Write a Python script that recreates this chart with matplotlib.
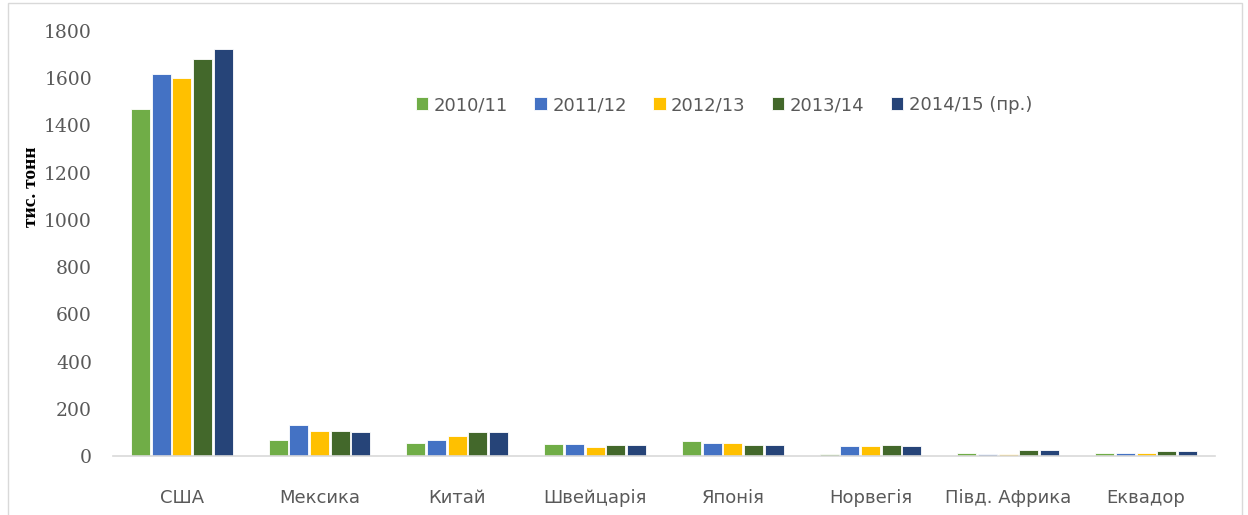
import matplotlib
matplotlib.use('Agg')
import matplotlib.pyplot as plt
import numpy as np
from matplotlib.patches import Rectangle

# Data
countries = ['США', 'Мексика', 'Китай', 'Швейцарія', 'Японія', 'Норвегія', 'Півд. Африка', 'Еквадор']
seasons = ['2010/11', '2011/12', '2012/13', '2013/14', '2014/15 (пр.)']
v2010 = [1470, 68, 57, 52, 62, 8, 14, 14]
v2011 = [1620, 133, 68, 52, 54, 41, 8, 14]
v2012 = [1600, 106, 83, 40, 53, 41, 7, 14]
v2013 = [1680, 106, 100, 47, 47, 47, 24, 20]
v2014 = [1725, 100, 100, 47, 47, 41, 24, 20]
series = [v2010, v2011, v2012, v2013, v2014]
colors = ['#70AD47', '#4472C4', '#FFC000', '#43682B', '#264478']

plt.rcParams['font.family'] = ['DejaVu Sans']

fig = plt.figure(figsize=(12.48, 5.15), dpi=100)
ax = fig.add_axes([0.0905, 0.1146, 0.883, 0.8252])

x = np.arange(len(countries))
w = 0.15
for i, (vals, c) in enumerate(zip(series, colors)):
    ax.bar(x + (i - 2) * w, vals, width=w * 0.92, color=c, label=seasons[i],
           edgecolor='#ffffff', linewidth=0.6)

ax.set_xlim(-0.5, len(countries) - 0.5)
ax.set_ylim(0, 1800)
ax.set_yticks(np.arange(0, 1801, 200))
ax.set_xticks(x)
ax.set_xticklabels(countries)
ax.tick_params(axis='x', length=0, labelsize=13, labelcolor='#595959', pad=24)
ax.tick_params(axis='y', length=0, labelsize=13.5, labelcolor='#595959', pad=15)
for lab in ax.get_yticklabels():
    lab.set_family('DejaVu Serif')
for s in ['top', 'right', 'left']:
    ax.spines[s].set_visible(False)
ax.spines['bottom'].set_color('#d9d9d9')
ax.spines['bottom'].set_linewidth(1.2)

ax.set_ylabel('тис. тонн', family=['Liberation Serif', 'DejaVu Serif'], fontweight='bold',
              fontsize=14, color='black')
ax.yaxis.set_label_coords(-0.066, 0.633)

leg = ax.legend(loc='upper left', bbox_to_anchor=(0.26, 0.885), ncol=5, frameon=False,
                fontsize=13, handlelength=0.7, handleheight=0.7, handletextpad=0.3,
                columnspacing=1.45, labelcolor='#595959')

fig.patches.append(Rectangle((8 / 1248, -0.05), 1234 / 1248, 1.05 - 3 / 515,
                             transform=fig.transFigure, fill=False,
                             edgecolor='#d9d9d9', linewidth=1))

fig.savefig('out.png', dpi=100)
